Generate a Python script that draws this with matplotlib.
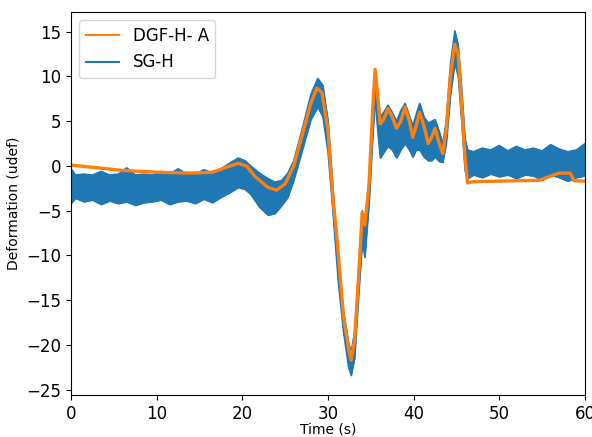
import matplotlib
matplotlib.use("Agg")
import matplotlib.pyplot as plt
from matplotlib.lines import Line2D
import numpy as np

# DGF-H- A (orange)
dgf_t = np.array([0, 3, 6, 10, 14, 16.5, 18, 19.5, 20.5, 21.5, 23, 24, 25, 26, 27, 28,
                  28.7, 29.3, 30, 30.6, 31.0, 31.8, 32.4, 32.7, 33.1, 33.6, 34.0, 34.3,
                  34.8, 35.2, 35.5, 35.8, 36.1, 36.5, 37.0, 37.5, 38.0, 38.5, 39.0, 39.5,
                  39.9, 40.3, 40.7, 41.2, 41.7, 42.1, 42.5, 43.0, 43.4, 43.8, 44.3, 44.8,
                  45.2, 45.6, 46.0, 46.3, 47, 50, 54.7, 55.8, 57, 58.3, 58.7, 60])
dgf_v = np.array([0.1, -0.2, -0.5, -0.7, -0.8, -0.7, -0.2, 0.3, 0.0, -1.2, -2.4, -2.7,
                  -2.0, 0.0, 3.5, 7.0, 8.7, 8.2, 4.0, -3.8, -7.5, -16.7, -20.4, -21.7,
                  -19.5, -12.0, -5.2, -6.6, -2.0, 6.0, 10.8, 8.0, 4.7, 5.2, 6.4, 5.5,
                  4.2, 5.0, 6.6, 5.0, 3.2, 4.5, 6.0, 4.5, 2.5, 3.2, 4.2, 2.5, 1.4, 4.0,
                  10.0, 13.6, 12.5, 7.0, 1.0, -1.9, -1.75, -1.7, -1.6, -1.2, -0.8, -0.8,
                  -1.65, -1.7])

# SG-H (blue), noisy signal given as lower / upper envelope
sg_t = np.array([0, 0.5, 1.5, 2.5, 3.5, 4.5, 5.5, 6.5, 7.5, 8.5, 9.5, 10.5, 11.5, 12.5,
                 13.5, 14.5, 15.5, 16.5, 17.5, 18.5, 19.5, 20.3, 21.0, 22.0, 23.0, 23.8,
                 24.6, 25.3, 26.0, 27.0, 28.0, 28.8, 29.4, 30.0, 30.6, 31.2, 31.8, 32.4,
                 32.7, 33.1, 33.6, 34.0, 34.3, 34.8, 35.2, 35.5, 35.8, 36.1, 36.5, 37.0,
                 37.5, 38.0, 38.5, 39.0, 39.5, 39.9, 40.3, 40.7, 41.2, 41.7, 42.1, 42.5,
                 43.0, 43.4, 43.8, 44.3, 44.8, 45.2, 45.6, 46.0, 46.3, 47, 48, 49, 50,
                 51, 52, 53, 54, 55, 56, 57, 58, 59, 60])
sg_lo = np.array([-4.2, -3.6, -4.0, -3.8, -4.3, -3.9, -4.2, -4.0, -4.4, -4.1, -4.0, -3.8,
                  -4.3, -4.0, -3.9, -4.2, -3.7, -4.1, -3.5, -3.0, -2.4, -2.6, -3.2, -4.6,
                  -5.5, -5.3, -4.4, -3.5, -1.6, 1.8, 5.2, 6.6, 5.5, 1.5, -5.5, -13.0,
                  -18.5, -22.5, -23.4, -21.5, -14.0, -8.5, -10.2, -4.0, 3.0, 7.5, 4.0,
                  0.9, 1.5, 2.2, 1.8, 0.9, 1.8, 2.5, 1.8, 1.0, 1.8, 1.8, 1.0, 0.6, 0.6,
                  1.0, 0.5, 0.4, 2.5, 8.0, 11.5, 10.0, 5.0, -0.5, -1.4, -1.0, -1.3, -0.9,
                  -1.2, -1.0, -1.4, -1.0, -1.1, -1.6, -1.0, -1.3, -1.7, -1.3, -1.1])
sg_hi = np.array([-0.3, -1.0, -0.9, -1.0, -0.6, -1.0, -0.9, -0.2, -1.0, -0.9, -1.0, -0.6,
                  -0.9, -0.3, -0.9, -1.0, -0.4, -0.8, -0.3, 0.3, 0.9, 0.6, 0.0, -0.8,
                  -1.4, -1.8, -1.6, -0.8, 0.6, 4.2, 8.0, 9.8, 9.0, 5.0, -3.0, -10.5,
                  -16.2, -19.8, -20.8, -18.5, -11.0, -5.0, -6.5, -1.5, 6.0, 10.5, 8.0,
                  5.5, 6.0, 6.8, 6.0, 5.0, 6.2, 7.0, 5.6, 4.5, 5.8, 7.0, 5.5, 4.8, 5.0,
                  5.2, 3.8, 2.5, 5.0, 11.5, 15.1, 13.5, 8.5, 3.0, 1.8, 1.6, 2.0, 1.8,
                  2.3, 1.7, 2.2, 1.8, 2.0, 1.7, 2.4, 1.9, 1.6, 1.8, 2.5])

fig, ax = plt.subplots(figsize=(5.92, 4.37), dpi=100)
fig.subplots_adjust(left=0.12, right=0.988, top=0.9725, bottom=0.096)

blue = '#1f77b4'
orange = '#ff7f0e'
ax.fill_between(sg_t, sg_lo, sg_hi, color=blue, lw=0.8)
ax.plot(sg_t, sg_lo, color=blue, lw=1)
ax.plot(sg_t, sg_hi, color=blue, lw=1)
ax.plot(dgf_t, dgf_v, color=orange, lw=2.4)

ax.set_xlim(0, 60)
ax.set_ylim(-25.6, 17.2)
ax.set_xticks([0, 10, 20, 30, 40, 50, 60])
ax.set_yticks([-25, -20, -15, -10, -5, 0, 5, 10, 15])
ax.tick_params(labelsize=12)
ax.set_xlabel("Time (s)", fontsize=10, labelpad=0)
ax.set_ylabel("Deformation (udef)", fontsize=10)

handles = [Line2D([], [], color=orange, lw=1.5), Line2D([], [], color=blue, lw=1.5)]
ax.legend(handles, ["DGF-H- A", "SG-H"], loc='upper left', fontsize=12)

fig.savefig("out.png", dpi=100)
